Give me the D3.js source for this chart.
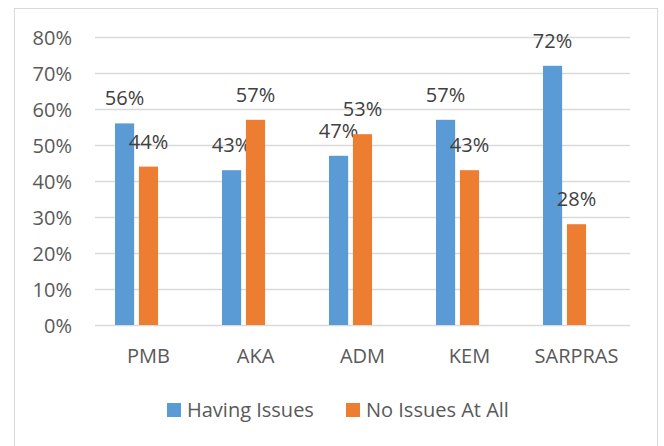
<!DOCTYPE html>
<html>
<head>
<meta charset="utf-8">
<script src="https://cdn.jsdelivr.net/npm/d3@7"></script>
<style>
  html, body { margin: 0; padding: 0; background: #fff; }
  svg { display: block; font-family: "Open Sans", sans-serif; }
</style>
</head>
<body>
<svg id="chart" width="664" height="446"></svg>
<script>
const categories = ["PMB", "AKA", "ADM", "KEM", "SARPRAS"];
const seriesNames = ["Having Issues", "No Issues At All"];
const havingIssues = [0.56, 0.43, 0.47, 0.57, 0.72];
const noIssues = [0.44, 0.57, 0.53, 0.43, 0.28];
const yTicks = [0, 0.1, 0.2, 0.3, 0.4, 0.5, 0.6, 0.7, 0.8];
const colors = ["#5B9BD5", "#ED7D31"];

const svg = d3.select("#chart");
const W = 664, H = 446;

// outer frame
svg.append("rect").attr("x", 14.5).attr("y", 8.5).attr("width", 643).attr("height", 460)
  .attr("fill", "#fff").attr("stroke", "#d9d9d9").attr("stroke-width", 1);

const plot = { left: 95, right: 630, top: 37, bottom: 325 };
const x = d3.scaleBand().domain(categories).range([plot.left, plot.right]).paddingInner(0).paddingOuter(0);
// three slots per group (third slot is empty in the source chart)
const slots = ["s0", "s1", "s2"];
const xs = d3.scaleBand().domain(slots).range([x.bandwidth() / 2 - 33.5, x.bandwidth() / 2 + 33.5]).paddingInner(0.2).paddingOuter(0);
const y = d3.scaleLinear().domain([0, 0.8]).range([plot.bottom, plot.top]);

// gridlines
svg.append("g").selectAll("line").data(yTicks).join("line")
  .attr("x1", plot.left).attr("x2", plot.right)
  .attr("y1", d => Math.round(y(d)) + 0.5).attr("y2", d => Math.round(y(d)) + 0.5)
  .attr("stroke", "#d9d9d9").attr("stroke-width", 1.5);

// y axis labels
const yAxis = d3.axisLeft(y).tickValues(yTicks).tickFormat(d3.format(".0%")).tickSize(0).tickPadding(0);
const ya = svg.append("g").attr("transform", `translate(72,0)`).call(yAxis);
ya.select(".domain").remove();
ya.selectAll("text").attr("fill", "#595959").style("font-size", "20px").style("font-family", "'Open Sans', sans-serif").attr("dy", "0.36em");

// x axis labels
const xAxis = d3.axisBottom(x).tickSize(0).tickPadding(0);
const xa = svg.append("g").attr("transform", `translate(0,${plot.bottom})`).call(xAxis);
xa.select(".domain").remove();
xa.selectAll("text").attr("fill", "#595959").style("font-size", "20px").style("font-family", "'Open Sans', sans-serif")
  .attr("dy", null).attr("y", 38);

const series = [havingIssues, noIssues];
series.forEach((vals, si) => {
  const g = svg.append("g");
  const data = categories.map((c, i) => ({ c, v: vals[i] }));
  g.selectAll("rect").data(data).join("rect")
    .attr("x", d => x(d.c) + xs(slots[si]))
    .attr("width", xs.bandwidth())
    .attr("y", d => y(d.v))
    .attr("height", d => y(0) - y(d.v))
    .attr("fill", colors[si]);
  g.selectAll("text").data(data).join("text")
    .attr("x", d => x(d.c) + xs(slots[si]) + xs.bandwidth() / 2)
    .attr("y", d => y(d.v) - 18)
    .attr("text-anchor", "middle")
    .attr("fill", "#404040")
    .style("font-size", "20px")
    .text(d => d3.format(".0%")(d.v));
});

// legend
const legend = svg.append("g");
const legendX = [167, 346];
seriesNames.forEach((name, i) => {
  legend.append("rect").attr("x", legendX[i]).attr("y", 403).attr("width", 14).attr("height", 14).attr("fill", colors[i]);
  legend.append("text").attr("x", legendX[i] + 20).attr("y", 417).attr("fill", "#595959")
    .style("font-size", "20px").text(name);
});
</script>
</body>
</html>
